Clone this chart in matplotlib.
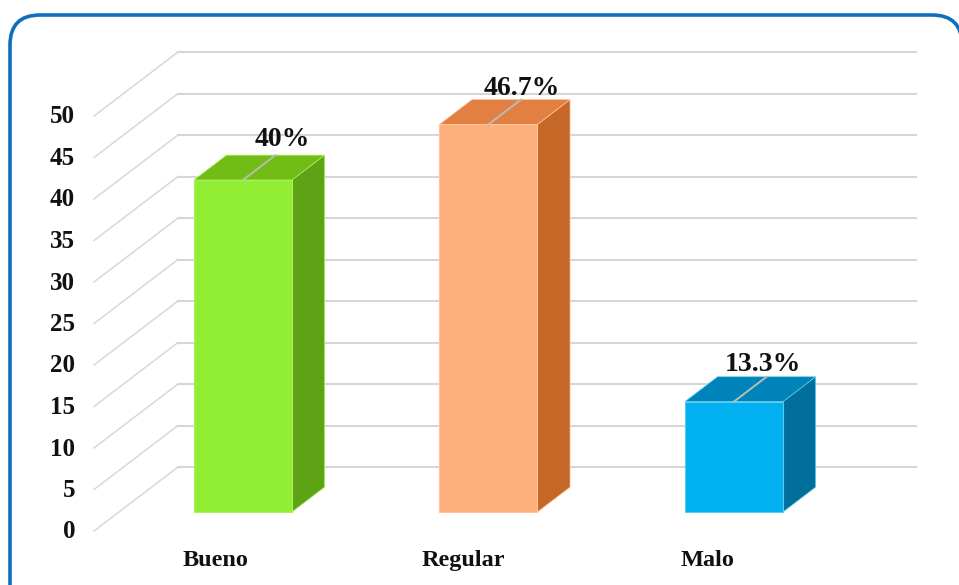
import matplotlib
matplotlib.use("Agg")
import matplotlib.pyplot as plt
from matplotlib.patches import FancyBboxPatch, Polygon

plt.rcParams['font.family'] = ['Liberation Serif', 'DejaVu Serif']

categories = ["Bueno", "Regular", "Malo"]
values = [40, 46.7, 13.3]
value_labels = ["40%", "46.7%", "13.3%"]
y_ticks = [0, 5, 10, 15, 20, 25, 30, 35, 40, 45, 50]

front_colors = ["#92EE35", "#FDB07C", "#00B0F0"]
top_colors = ["#72BC16", "#E27F42", "#0083B8"]
side_colors = ["#5EA215", "#C56827", "#006F9C"]
edge_colors = ["#A6F25C", "#FFC49C", "#5CCBF3"]

W, H = 959, 585
PX_X = 245.5  # pixels for one category
PX_Y = 8.3    # pixels for one value unit
X0 = 218      # pixel of category 0 on the front plane

fig = plt.figure(figsize=(W / 100, H / 100), dpi=100)
fig.patch.set_facecolor("white")

# border runs off the bottom and right of the picture
border = FancyBboxPatch((10, -40), 952, H - 15 + 40, boxstyle="round,pad=0,rounding_size=30",
                        transform=None, fc="white", ec="#0F6FBF", lw=2.6, zorder=-1)
fig.add_artist(border)

ax = fig.add_axes([0, 0, 1, 1])
ax.set_xlim(-X0 / PX_X, (W - X0) / PX_X)
ax.set_ylim((531 - H) / PX_Y, 531 / PX_Y)
ax.axis("off")

# oblique depth: d=0 front of the floor, d=1 back wall
DX = 84 / PX_X
DY = 64 / PX_Y
X_LEFT = (94 - X0) / PX_X
X_RIGHT = (916 - X0) / PX_X
D0, D1 = 0.297, 0.685
BAR_W = 98 / PX_X

# label nudges in pixels
label_dx = [7, 1, -4]
label_dy = [16, 11, 12]
cat_dx = [-3, 0, -2]


def proj(x, y, d):
    return (x + d * DX, y + d * DY)


for t in y_ticks:
    a = proj(X_LEFT, t, 0)
    b = proj(X_LEFT, t, 1)
    ax.plot([a[0], b[0]], [a[1], b[1]], color="#D8D8D8", lw=1.1, zorder=1)
    ax.plot([b[0], X_RIGHT], [b[1], b[1]], color="#D6D6D6", lw=1.5, zorder=1)
    ax.annotate(str(t), xy=a, xytext=(-19, -1), textcoords="offset pixels",
                ha="right", va="center", fontsize=18, fontweight="bold", color="#111111")

for i, v in enumerate(values):
    l, r = i - BAR_W / 2, i + BAR_W / 2
    front = [proj(l, 0, D0), proj(r, 0, D0), proj(r, v, D0), proj(l, v, D0)]
    side = [proj(r, 0, D0), proj(r, 0, D1), proj(r, v, D1), proj(r, v, D0)]
    top = [proj(l, v, D0), proj(r, v, D0), proj(r, v, D1), proj(l, v, D1)]
    ax.add_patch(Polygon(side, fc=side_colors[i], ec=edge_colors[i], lw=0.5, zorder=2))
    ax.add_patch(Polygon(top, fc=top_colors[i], ec=edge_colors[i], lw=0.5, zorder=2))
    ax.add_patch(Polygon(front, fc=front_colors[i], ec=edge_colors[i], lw=0.8, zorder=3))

    p0 = proj(i, v, D0)
    p1 = proj(i, v, D1)
    ax.plot([p0[0], p1[0]], [p0[1], p1[1]], color="#B8BDB8", lw=1.4, zorder=4)
    ax.annotate(value_labels[i], xy=p1, xytext=(label_dx[i], label_dy[i]), textcoords="offset pixels",
                ha="center", va="center", fontsize=20, fontweight="bold", color="#111111", zorder=5)

    ax.annotate(categories[i], xy=(i, 0), xytext=(cat_dx[i], -35), textcoords="offset pixels",
                ha="center", va="baseline", fontsize=17.5, fontweight="bold", color="#111111")

fig.savefig("out.png", dpi=100)
